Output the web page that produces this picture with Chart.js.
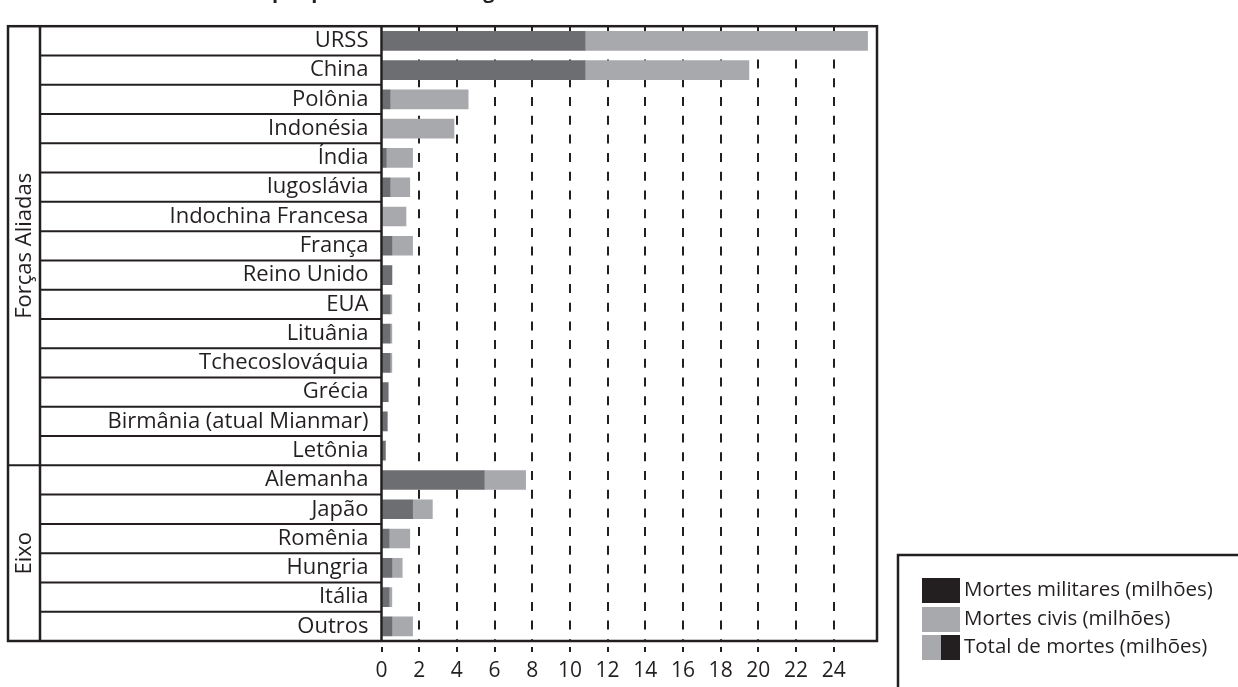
<!DOCTYPE html>
<html lang="pt-BR">
<head>
<meta charset="utf-8">
<title>Mortes na Segunda Guerra Mundial</title>
<script src="https://cdn.jsdelivr.net/npm/chart.js@4.4.1/dist/chart.umd.min.js"></script>
<style>
  html, body { margin: 0; padding: 0; background: #fff; }
  #grafico { display: block; }
</style>
</head>
<body>
<canvas id="grafico" width="1238" height="687"></canvas>
<script>
// dados (milhões de mortos)
const paises = ['URSS', 'China', 'Polônia', 'Indonésia', 'Índia', 'Iugoslávia', 'Indochina Francesa',
  'França', 'Reino Unido', 'EUA', 'Lituânia', 'Tchecoslováquia', 'Grécia', 'Birmânia (atual Mianmar)',
  'Letônia', 'Alemanha', 'Japão', 'Romênia', 'Hungria', 'Itália', 'Outros'];
const mortesMilitares = [10.8, 10.8, 0.45, 0, 0.25, 0.45, 0, 0.55, 0.55, 0.45, 0.45, 0.45, 0.35, 0.3,
  0.2, 5.45, 1.65, 0.4, 0.55, 0.4, 0.55];
const mortesCivis = [15.0, 8.7, 4.15, 3.85, 1.4, 1.05, 1.3, 1.1, 0, 0.1, 0.1, 0.1, 0, 0,
  0, 2.2, 1.05, 1.1, 0.55, 0.15, 1.1];
const grupos = ['Forças Aliadas', 'Eixo'];
const inicioGrupo = [0, 15];
const marcasX = [0, 2, 4, 6, 8, 10, 12, 14, 16, 18, 20, 22, 24];
const maxX = 26.3;
const rotulosLegenda = ['Mortes militares (milhões)', 'Mortes civis (milhões)', 'Total de mortes (milhões)'];
const titulo = 'Mortes por país durante a Segunda Guerra Mundial';

const PRETO = '#231f20';
const CINZA_ESCURO = '#6d6e71';
const CINZA_CLARO = '#a7a9ac';
const FONTE = "'Open Sans', 'DejaVu Sans', sans-serif";

function linha(ctx, x1, y1, x2, y2) {
  ctx.beginPath();
  ctx.moveTo(x1, y1);
  ctx.lineTo(x2, y2);
  ctx.stroke();
}

// quadro das categorias, bordas, rótulos dos grupos e legenda
const moldura = {
  id: 'moldura',
  afterDatasetsDraw(chart) {
    const { ctx, chartArea: a, scales: { y } } = chart;
    const esq = 8, colGrupo = 40;
    const meio = i => (y.getPixelForValue(i - 1) + y.getPixelForValue(i)) / 2;
    ctx.save();
    ctx.strokeStyle = PRETO;

    ctx.lineWidth = 2;
    for (let i = 1; i < paises.length; i++) {
      const yy = meio(i);
      linha(ctx, inicioGrupo.includes(i) ? esq : colGrupo, yy, a.left, yy);
    }
    ctx.lineWidth = 2.5;
    linha(ctx, colGrupo, a.top, colGrupo, a.bottom);
    linha(ctx, a.left, a.top, a.left, a.bottom);
    ctx.strokeRect(esq, a.top, a.right - esq, a.bottom - a.top);

    // grupos, texto na vertical
    ctx.fillStyle = PRETO;
    ctx.font = `22px ${FONTE}`;
    ctx.textAlign = 'center';
    ctx.textBaseline = 'middle';
    grupos.forEach((g, k) => {
      const ini = inicioGrupo[k];
      const fim = k + 1 < grupos.length ? inicioGrupo[k + 1] : paises.length;
      const y0 = ini === 0 ? a.top : meio(ini);
      const y1 = fim === paises.length ? a.bottom : meio(fim);
      ctx.save();
      ctx.translate((esq + colGrupo) / 2, (y0 + y1) / 2);
      ctx.rotate(-Math.PI / 2);
      ctx.fillText(g, 0, 1);
      ctx.restore();
    });

    // título (só a parte de baixo aparece)
    ctx.font = `bold 20px ${FONTE}`;
    ctx.textAlign = 'left';
    ctx.textBaseline = 'alphabetic';
    ctx.fillText(titulo, 272 - ctx.measureText('Mortes ').width, -2);

    // legenda
    const lx = 898, ly = 555;
    ctx.lineWidth = 2.5;
    ctx.strokeRect(lx, ly, 345, 140);
    const cores = [[PRETO], [CINZA_CLARO], [CINZA_CLARO, PRETO]];
    const linhasY = [590, 619, 647];
    ctx.font = `20.5px ${FONTE}`;
    ctx.textAlign = 'left';
    ctx.textBaseline = 'middle';
    rotulosLegenda.forEach((txt, k) => {
      const c = cores[k];
      const w = 38 / c.length;
      c.forEach((cor, j) => {
        ctx.fillStyle = cor;
        ctx.fillRect(lx + 24 + j * w, linhasY[k] - 12, w, 25);
      });
      ctx.fillStyle = PRETO;
      ctx.fillText(txt, lx + 66, linhasY[k]);
    });
    ctx.restore();
  }
};

new Chart(document.getElementById('grafico'), {
  type: 'bar',
  data: {
    labels: paises,
    datasets: [
      { label: rotulosLegenda[0], data: mortesMilitares, backgroundColor: CINZA_ESCURO },
      { label: rotulosLegenda[1], data: mortesCivis, backgroundColor: CINZA_CLARO }
    ]
  },
  options: {
    indexAxis: 'y',
    responsive: false,
    animation: false,
    devicePixelRatio: 1,
    layout: { padding: { left: 8, top: 11, right: 361, bottom: 0 } },
    datasets: { bar: { barThickness: 19 } },
    plugins: { legend: { display: false }, tooltip: { enabled: false } },
    scales: {
      x: {
        stacked: true,
        min: 0,
        max: maxX,
        afterBuildTicks: s => { s.ticks = marcasX.map(v => ({ value: v })); },
        afterFit: s => { s.height = 46; },
        // no v4 o tracejado das linhas de grade vem de border.dash
        border: { display: false, dash: [9, 9.7], dashOffset: 4 },
        grid: {
          color: c => (c.tick && c.tick.value === 0 ? 'rgba(0,0,0,0)' : PRETO),
          lineWidth: 2,
          drawTicks: true,
          tickLength: 11,
          tickColor: PRETO,
          tickWidth: 2,
          tickBorderDash: [0, 6, 5, 20]
        },
        ticks: {
          color: PRETO,
          padding: 6,
          maxRotation: 0,
          autoSkip: false,
          font: { family: FONTE, size: 21 }
        }
      },
      y: {
        stacked: true,
        afterFit: s => { s.width = 373.5; },
        border: { display: false },
        grid: { display: false, drawTicks: false },
        ticks: {
          color: PRETO,
          padding: 13,
          autoSkip: false,
          font: { family: FONTE, size: 22 }
        }
      }
    }
  },
  plugins: [moldura]
});
</script>
</body>
</html>
